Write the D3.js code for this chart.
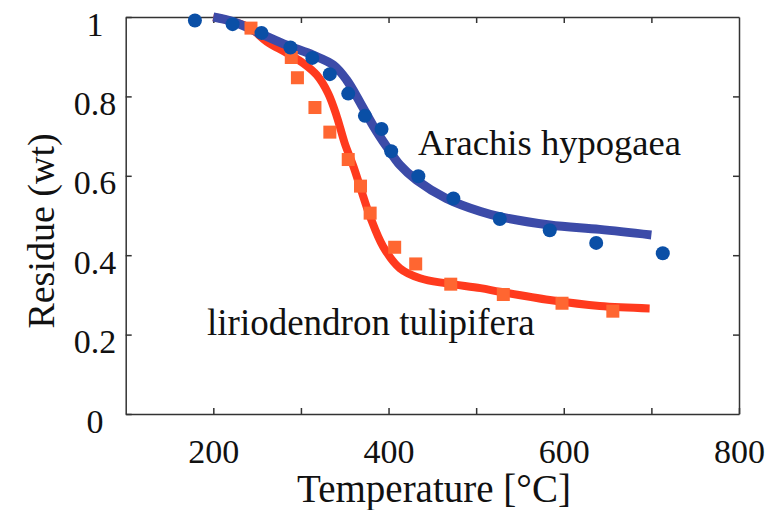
<!DOCTYPE html>
<html>
<head>
<meta charset="utf-8">
<script src="https://cdn.jsdelivr.net/npm/d3@7"></script>
<style>
  body { margin: 0; background: #fff; }
  svg { display: block; font-family: "Liberation Serif", "Times New Roman", serif; }
  .axis path, .axis line { stroke: #333; stroke-width: 1.5; }
  .axis text { fill: #111; font-size: 34px; font-family: "Liberation Serif", "Times New Roman", serif; }
</style>
</head>
<body>
<svg id="chart" width="778" height="510"></svg>
<script>
// measured points (circles / squares)
const arachisTemp = [179, 222, 255, 288, 313, 333, 354, 373, 392, 403, 434, 474, 527, 584, 637, 713];
const arachisResidue = [0.991, 0.982, 0.960, 0.923, 0.897, 0.856, 0.807, 0.751, 0.718, 0.662, 0.599, 0.543, 0.491, 0.463, 0.431, 0.405];
const lirioTemp = [243, 289, 296, 316, 333, 354, 368, 379, 407, 431, 471, 531, 598, 656];
const lirioResidue = [0.972, 0.898, 0.847, 0.772, 0.710, 0.641, 0.574, 0.506, 0.420, 0.378, 0.327, 0.301, 0.279, 0.259];

// fitted curves
const arachisFitTemp = [200, 223, 253, 284, 314, 337, 352, 368, 383, 398, 413, 432, 466, 505, 527, 584, 641, 700];
const arachisFitResidue = [1.0, 0.988, 0.959, 0.929, 0.904, 0.879, 0.842, 0.783, 0.724, 0.673, 0.627, 0.589, 0.543, 0.510, 0.497, 0.476, 0.465, 0.451];
const lirioFitTemp = [200, 223, 242, 261, 284, 303, 318, 331, 341, 350, 360, 368, 379, 394, 413, 436, 466, 505, 527, 584, 641, 698];
const lirioFitResidue = [1.0, 0.988, 0.972, 0.938, 0.909, 0.883, 0.854, 0.808, 0.749, 0.682, 0.623, 0.569, 0.497, 0.421, 0.367, 0.342, 0.329, 0.317, 0.308, 0.287, 0.272, 0.266];

const xTicks = [200, 300, 400, 500, 600, 700, 800];
const xLabels = [200, 400, 600, 800];
const yTicks = [0, 0.2, 0.4, 0.6, 0.8, 1];

const svg = d3.select("#chart");

const x = d3.scaleLinear().domain([100, 800]).range([125.7, 739]);
const y = d3.scaleLinear().domain([0, 1]).range([414, 17]);

// box axes with inward ticks
svg.append("g")
  .attr("class", "axis")
  .attr("transform", "translate(0," + y(0) + ")")
  .call(d3.axisBottom(x).tickValues(xTicks).tickSizeInner(-6).tickSizeOuter(0).tickPadding(25)
    .tickFormat(d => xLabels.includes(d) ? d : ""))
  .call(g => g.selectAll(".tick text").attr("dy", "0.71em"));

svg.append("g")
  .attr("class", "axis")
  .attr("transform", "translate(0," + y(1) + ")")
  .call(d3.axisTop(x).tickValues(xTicks.slice(0, -1)).tickSizeInner(-6).tickSizeOuter(0).tickFormat(""));

svg.append("g")
  .attr("class", "axis")
  .attr("transform", "translate(" + x(100) + ",0)")
  .call(d3.axisLeft(y).tickValues(yTicks).tickSizeInner(-6).tickSizeOuter(0)
    .tickFormat(d => d === 0 ? "0" : d === 1 ? "1" : d3.format(".1f")(d)))
  .call(g => g.selectAll(".tick text")
    .attr("text-anchor", "middle")
    .attr("x", 95 - x(100))
    .attr("dy", "0.53em"));

svg.append("g")
  .attr("class", "axis")
  .attr("transform", "translate(" + x(800) + ",0)")
  .call(d3.axisRight(y).tickValues(yTicks.slice(1, -1)).tickSizeInner(-6).tickSizeOuter(0).tickFormat(""));

// fitted lines
const line = d3.line()
  .x(d => x(d[0]))
  .y(d => y(d[1]))
  .curve(d3.curveCatmullRom.alpha(0.5));

svg.append("path")
  .datum(d3.zip(lirioFitTemp, lirioFitResidue))
  .attr("fill", "none")
  .attr("stroke", "#ff3a1e")
  .attr("stroke-width", 8)
  .attr("d", line);

svg.append("path")
  .datum(d3.zip(arachisFitTemp, arachisFitResidue))
  .attr("fill", "none")
  .attr("stroke", "#3c4ba8")
  .attr("stroke-width", 9)
  .attr("d", line);

// measured markers
svg.append("g")
  .selectAll("rect")
  .data(d3.zip(lirioTemp, lirioResidue))
  .join("rect")
  .attr("x", d => x(d[0]) - 6.5)
  .attr("y", d => y(d[1]) - 6.5)
  .attr("width", 13)
  .attr("height", 13)
  .attr("fill", "#ff6631");

svg.append("g")
  .selectAll("circle")
  .data(d3.zip(arachisTemp, arachisResidue))
  .join("circle")
  .attr("cx", d => x(d[0]))
  .attr("cy", d => y(d[1]))
  .attr("r", 7)
  .attr("fill", "#0a4fa6");

// labels
svg.append("text")
  .attr("x", 418)
  .attr("y", 155)
  .attr("font-size", "36.6px")
  .attr("fill", "#111")
  .text("Arachis hypogaea");

svg.append("text")
  .attr("x", 207)
  .attr("y", 335)
  .attr("font-size", "37px")
  .attr("fill", "#111")
  .text("liriodendron tulipifera");

svg.append("text")
  .attr("x", 434)
  .attr("y", 502)
  .attr("text-anchor", "middle")
  .attr("font-size", "39px")
  .attr("fill", "#111")
  .text("Temperature [°C]");

svg.append("text")
  .attr("transform", "translate(54,231) rotate(-90)")
  .attr("text-anchor", "middle")
  .attr("font-size", "38px")
  .attr("fill", "#111")
  .text("Residue (wt)");
</script>
</body>
</html>
